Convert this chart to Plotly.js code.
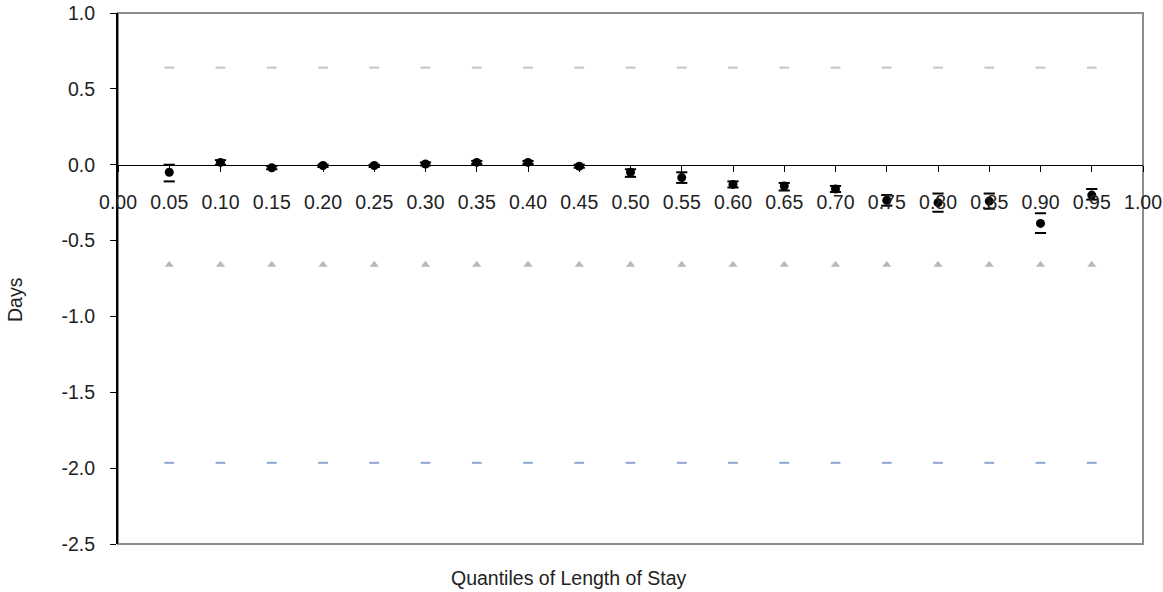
<!DOCTYPE html>
<html>
<head>
<meta charset="utf-8">
<script src="https://cdn.plot.ly/plotly-3.0.1.min.js"></script>
<style>html,body{margin:0;padding:0;background:#fff;}#chart{width:1163px;height:592px;}</style>
</head>
<body>
<div id="chart"></div>
<script>
// Quantiles of length of stay
var quantiles = [0.05,0.10,0.15,0.20,0.25,0.30,0.35,0.40,0.45,0.50,0.55,0.60,0.65,0.70,0.75,0.80,0.85,0.90,0.95];
// Point estimates (days)
var estimate = [-0.05,0.015,-0.02,-0.005,-0.005,0.005,0.015,0.015,-0.01,-0.05,-0.085,-0.13,-0.14,-0.16,-0.235,-0.25,-0.24,-0.387,-0.20];
// Confidence interval bounds
var upperCI = [0.00,0.03,-0.01,0.00,0.00,0.015,0.025,0.025,0.00,-0.03,-0.05,-0.11,-0.12,-0.14,-0.20,-0.19,-0.19,-0.32,-0.16];
var lowerCI = [-0.11,0.00,-0.03,-0.015,-0.015,-0.005,0.005,0.005,-0.02,-0.08,-0.12,-0.15,-0.17,-0.18,-0.27,-0.31,-0.29,-0.45,-0.23];
// Reference markers
var refUpper = [0.64,0.64,0.64,0.64,0.64,0.64,0.64,0.64,0.64,0.64,0.64,0.64,0.64,0.64,0.64,0.64,0.64,0.64,0.64];
var refMid = [-0.66,-0.66,-0.66,-0.66,-0.66,-0.66,-0.66,-0.66,-0.66,-0.66,-0.66,-0.66,-0.66,-0.66,-0.66,-0.66,-0.66,-0.66,-0.66];
var refLow = [-1.965,-1.965,-1.965,-1.965,-1.965,-1.965,-1.965,-1.965,-1.965,-1.965,-1.965,-1.965,-1.965,-1.965,-1.965,-1.965,-1.965,-1.965,-1.965];
// Axis ticks
var xTickVals = [0,0.05,0.10,0.15,0.20,0.25,0.30,0.35,0.40,0.45,0.50,0.55,0.60,0.65,0.70,0.75,0.80,0.85,0.90,0.95,1.00];
var xTickText = ["0.00","0.05","0.10","0.15","0.20","0.25","0.30","0.35","0.40","0.45","0.50","0.55","0.60","0.65","0.70","0.75","0.80","0.85","0.90","0.95","1.00"];
var yTickVals = [1.0,0.5,0.0,-0.5,-1.0,-1.5,-2.0,-2.5];
var yTickText = ["1.0","0.5","0.0","-0.5","-1.0","-1.5","-2.0","-2.5"];

var FONT = "Liberation Sans, Arial, sans-serif";
var FS = 19.5;
var yMin = -2.5, yMax = 1.0;
var zeroPos = (0 - yMin) / (yMax - yMin);

var traces = [
  {x: quantiles, y: refUpper, mode: 'markers', type: 'scatter',
   marker: {symbol: 'line-ew', size: 7, line: {color: '#c4c4c4', width: 2}}},
  {x: quantiles, y: refMid, mode: 'markers', type: 'scatter',
   marker: {symbol: 'triangle-up', size: 8, color: '#b9b9b9'}},
  {x: quantiles, y: refLow, mode: 'markers', type: 'scatter',
   marker: {symbol: 'line-ew', size: 7, line: {color: '#8fa6d0', width: 2}}},
  {x: quantiles, y: upperCI, mode: 'markers', type: 'scatter',
   marker: {symbol: 'line-ew', size: 8, line: {color: '#000', width: 2}}},
  {x: quantiles, y: lowerCI, mode: 'markers', type: 'scatter',
   marker: {symbol: 'line-ew', size: 8, line: {color: '#000', width: 2}}},
  {x: quantiles, y: estimate, mode: 'markers', type: 'scatter',
   marker: {symbol: 'circle', size: 9, color: '#000'}}
];

var layout = {
  width: 1163, height: 592,
  margin: {l: 118, r: 20, t: 13, b: 48},
  paper_bgcolor: '#fff', plot_bgcolor: 'rgba(0,0,0,0)',
  showlegend: false,
  font: {family: FONT, size: FS, color: '#222'},
  xaxis: {
    range: [0, 1], anchor: 'free', position: zeroPos,
    tickvals: xTickVals, ticktext: xTickText, ticks: 'outside', ticklen: 6, tickcolor: '#000', tickwidth: 1,
    ticklabelstandoff: 13,
    tickfont: {family: FONT, size: FS, color: '#222'},
    showline: true, linecolor: '#000', linewidth: 1.5, showgrid: false, zeroline: false
  },
  yaxis: {
    range: [yMin, yMax], tickvals: yTickVals, ticktext: yTickText, anchor: 'x',
    ticks: 'outside', ticklen: 6, tickcolor: '#000', showline: true, linecolor: '#000', linewidth: 2,
    showgrid: false, zeroline: false, ticklabelstandoff: 11,
    tickfont: {family: FONT, size: FS, color: '#222'}
  },
  shapes: [
    {type: 'rect', xref: 'x domain', yref: 'y domain', x0: 0, x1: 1, y0: 0, y1: 1,
     line: {color: '#8c8c8c', width: 2}, layer: 'below'}
  ],
  annotations: [
    {text: 'Days', xref: 'paper', yref: 'paper', x: (15 - 118) / 1025, y: (544 - 300) / 531, textangle: -90,
     showarrow: false, xanchor: 'center', yanchor: 'middle', font: {family: FONT, size: FS, color: '#222'}},
    {text: 'Quantiles of Length of Stay', xref: 'paper', yref: 'paper', x: (568 - 118) / 1025, y: -(578 - 544) / 531,
     showarrow: false, xanchor: 'center', yanchor: 'middle', font: {family: FONT, size: FS, color: '#222'}}
  ]
};

Plotly.newPlot('chart', traces, layout, {displayModeBar: false, staticPlot: true});
</script>
</body>
</html>
